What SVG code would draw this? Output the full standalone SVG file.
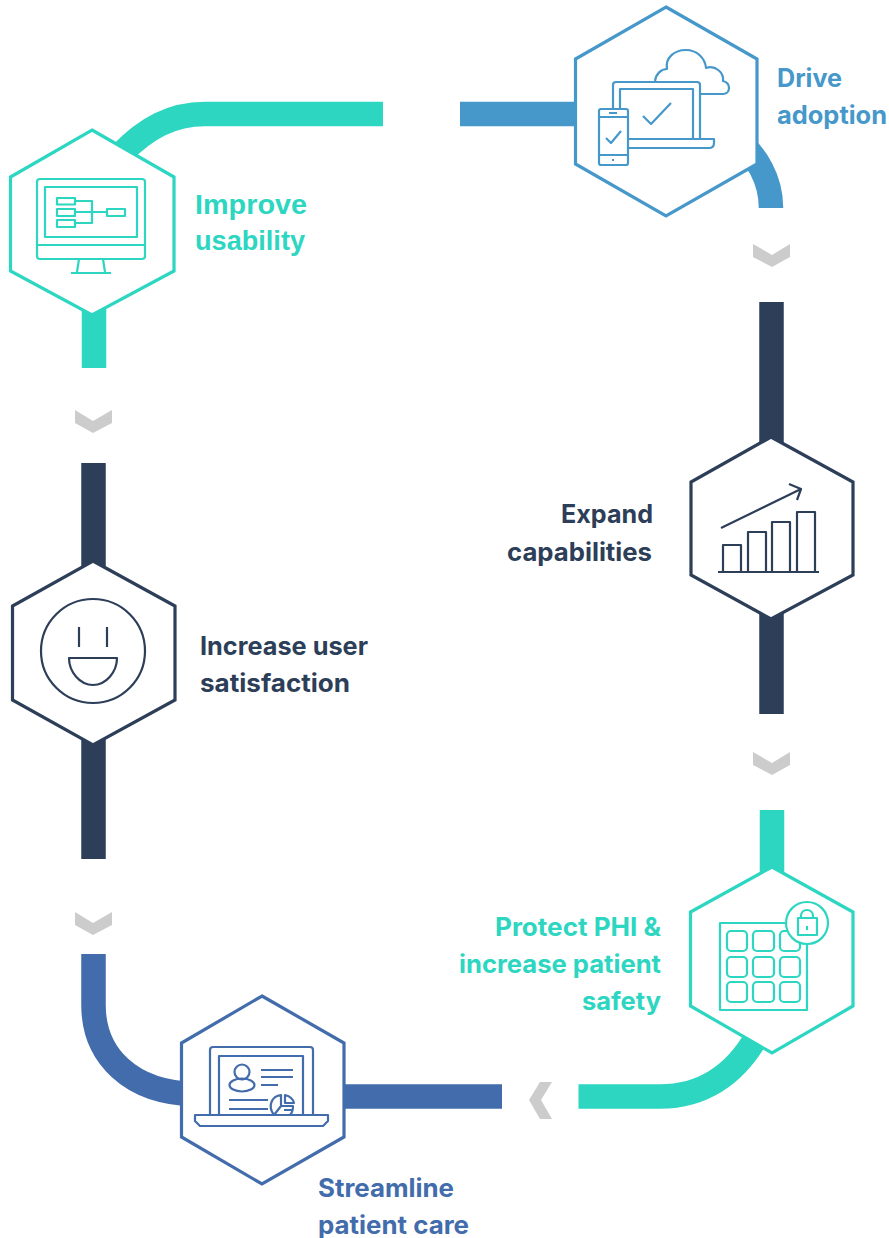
<svg xmlns="http://www.w3.org/2000/svg" width="889" height="1238" viewBox="0 0 889 1238">
<style>
text{font-family:"Inter","Liberation Sans",sans-serif;font-weight:700;font-size:25.500px}
.arial{font-family:"Liberation Sans",sans-serif;font-size:28px}
.hex{fill:#fff;stroke-width:3.2;stroke-linejoin:miter}
.ic{fill:none;stroke-width:2.200;stroke-linejoin:round}
.band{fill:none;stroke-width:24.500}
.teal{stroke:#2dd6c1}.sky{stroke:#4698cb}.navy{stroke:#2d3e58}.blue{stroke:#426cab}
.tteal{fill:#2dd6c1}.tsky{fill:#4698cb}.tnavy{fill:#2d3e58}.tblue{fill:#426cab}
.chev{fill:#cccccc}
</style>
<rect width="889" height="1238" fill="#fff"/>
<g id="connectors">
<path class="band teal" d="M383 114H205C172 114 146 128 121 154"/>
<path class="band teal" d="M94 300V368"/>
<path class="band sky" d="M460 114H590"/>
<path class="band sky" d="M735 138C757 155 771 180 771 208"/>
<path class="band navy" d="M771.500 302V450"/>
<path class="band navy" d="M771.500 600V714"/>
<path class="band teal" d="M772 810V880"/>
<path class="band teal" d="M578.500 1096.500H660C702 1096.500 735 1075 757 1036"/>
<path class="band blue" d="M502 1096.500H330"/>
<path class="band blue" d="M93.500 954V1005C93.500 1055 130 1093 195 1094"/>
<path class="band navy" d="M93.500 463V580"/>
<path class="band navy" d="M93.500 730V859"/>
<polygon class="chev" points="753,244 772,255 790,244 790,257 772,267 753,257"/>
<polygon class="chev" points="753,752 772,763 790,752 790,765 772,775 753,765"/>
<polygon class="chev" points="75,410 93,421 112,410 112,423 93,433 75,423"/>
<polygon class="chev" points="75,912 93,923 112,912 112,925 93,935 75,925"/>
<polygon class="chev" points="552,1082 541,1100 552,1119 540,1119 529,1100 540,1082"/>
</g>
<g id="node-drive-adoption">
<polygon class="hex sky" points="666,7 757,59 757,164 666,216 575.500,164 575.500,59"/>
<g class="ic sky">
<path d="M655 81C656 74 661 69 667 69C665 58 674 50 686 50C697 50 705 58 706 68C715 65 724 72 723 81C727 82 729 85 729 88C729 92 726 94 723 94H700"/>
<path d="M613 109V85Q613 82 616 82H697Q700 82 700 85V139"/>
<path d="M620 109V89H693V139"/>
<path d="M628 139H714V143Q714 148 709 148H628"/>
<rect x="599" y="109" width="29" height="56" rx="2"/>
<path d="M599 117H628M599 155H628M609 113H617M612 160H614"/>
<path d="M643 116L651 124L671 103M606 138L611 143L621 131"/>
</g>
<text class="tsky" x="777" y="87" textLength="65" lengthAdjust="spacingAndGlyphs">Drive</text>
<text class="tsky" x="777" y="124" textLength="110" lengthAdjust="spacingAndGlyphs">adoption</text>
</g>
<g id="node-improve-usability">
<polygon class="hex teal" points="92,130 174,177 174,271 92,315 10.500,271 10.500,177"/>
<g class="ic teal">
<rect x="37" y="179" width="108" height="80" rx="3"/>
<path d="M37 245H145"/>
<rect x="45" y="187" width="92" height="50"/>
<rect x="57" y="198" width="18" height="6.500"/>
<rect x="57" y="209" width="18" height="7"/>
<rect x="57" y="220" width="18" height="7"/>
<rect x="107" y="209" width="18" height="7"/>
<path d="M75 201H92V223H75M75 212H107"/>
<path d="M79 259L77 272M103 259L105 272M71 273H111"/>
</g>
<text class="tteal arial" x="195" y="214" textLength="112" lengthAdjust="spacingAndGlyphs">Improve</text>
<text class="tteal arial" x="195" y="250" textLength="110" lengthAdjust="spacingAndGlyphs">usability</text>
</g>
<g id="node-expand-capabilities">
<polygon class="hex navy" points="771,437 853,482 853,575 771,619 691,575 691,482"/>
<g class="ic navy">
<path d="M721 528L801 489M789 484L801 489L797 500"/>
<path d="M723 572V545H741V572M748 572V532H766V572M772 572V522H790V572M797 572V512H815V572M718 572H819"/>
</g>
<text class="tnavy" x="561" y="523" textLength="92" lengthAdjust="spacingAndGlyphs">Expand</text>
<text class="tnavy" x="507" y="561" textLength="145" lengthAdjust="spacingAndGlyphs">capabilities</text>
</g>
<g id="node-increase-satisfaction">
<polygon class="hex navy" points="93,561 175,606 175,700 93,745 12.500,700 12.500,606"/>
<g class="ic navy">
<circle cx="93" cy="651" r="52"/>
<path d="M79 627V647M107 627V647"/>
<path d="M69 658H117C117 672 106 685 93 685C80 685 69 672 69 658Z"/>
</g>
<text class="tnavy" x="200" y="655" textLength="168" lengthAdjust="spacingAndGlyphs">Increase user</text>
<text class="tnavy" x="200" y="692" textLength="150" lengthAdjust="spacingAndGlyphs">satisfaction</text>
</g>
<g id="node-protect-phi">
<polygon class="hex teal" points="772,867 853,912 853,1006 772,1053 690.500,1006 690.500,912"/>
<g class="ic teal">
<rect x="720" y="923" width="87" height="87"/>
<rect x="727" y="931" width="20" height="20" rx="4"/>
<rect x="753" y="931" width="21" height="20" rx="4"/>
<rect x="780" y="931" width="20" height="20" rx="4"/>
<rect x="727" y="957" width="20" height="20" rx="4"/>
<rect x="753" y="957" width="21" height="20" rx="4"/>
<rect x="780" y="957" width="20" height="20" rx="4"/>
<rect x="727" y="982" width="20" height="20" rx="4"/>
<rect x="753" y="982" width="21" height="20" rx="4"/>
<rect x="780" y="982" width="20" height="20" rx="4"/>
<circle cx="807" cy="923" r="21" fill="#fff"/>
<rect x="798" y="918" width="19" height="17"/>
<path d="M801 918V916C801 908 813 908 813 916V918"/>
<path d="M807 926V930"/>
</g>
<text class="tteal" x="495" y="936" textLength="166" lengthAdjust="spacingAndGlyphs">Protect PHI &amp;</text>
<text class="tteal" x="459" y="973" textLength="202" lengthAdjust="spacingAndGlyphs">increase patient</text>
<text class="tteal" x="582" y="1010" textLength="79" lengthAdjust="spacingAndGlyphs">safety</text>
</g>
<g id="node-streamline-care">
<polygon class="hex blue" points="262,996 344,1043 344,1137 262,1184 181.500,1137 181.500,1043"/>
<g class="ic blue">
<path d="M210 1115V1050Q210 1047 213 1047H310Q313 1047 313 1050V1115"/>
<path d="M219 1115V1056H303V1115"/>
<path d="M195 1115H328V1121L323 1126H200L195 1121Z"/>
<circle cx="242" cy="1072" r="7.500"/>
<ellipse cx="242" cy="1085" rx="12.500" ry="6.500"/>
<path d="M261 1070H293M261 1077H293M261 1085H278M229 1100H268M229 1109H268"/>
<path d="M274 1115C267 1106 272 1096 281 1095V1106H293C293 1110 292 1113 290 1115M281 1106L274 1115M285 1095C289 1096 293 1099 294 1103H285ZM284 1110H293"/>
</g>
<text class="tblue" x="318" y="1197" textLength="136" lengthAdjust="spacingAndGlyphs">Streamline</text>
<text class="tblue" x="318" y="1234" textLength="151" lengthAdjust="spacingAndGlyphs">patient care</text>
</g>
</svg>
